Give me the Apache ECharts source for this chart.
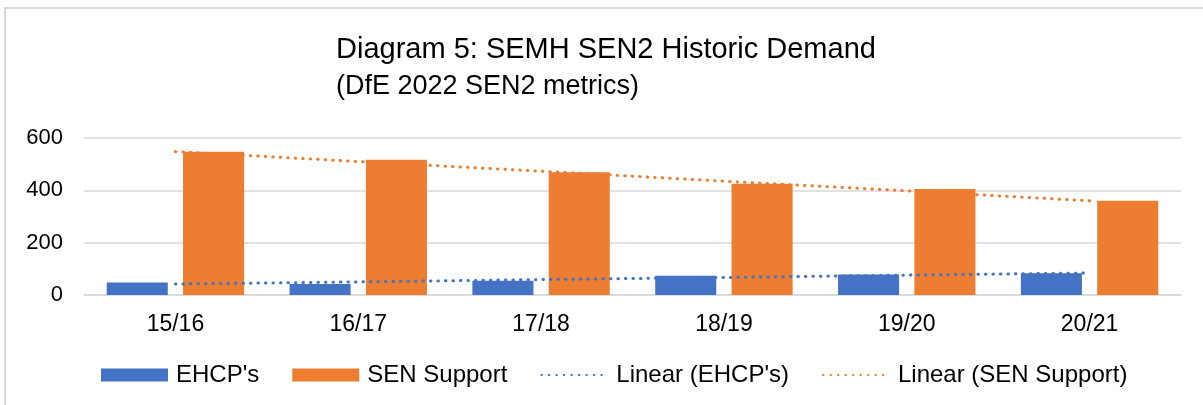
<!DOCTYPE html>
<html>
<head>
<meta charset="utf-8">
<script src="https://cdn.jsdelivr.net/npm/echarts@6/dist/echarts.min.js"></script>
<style>
  html, body { margin: 0; padding: 0; background: #fff; }
  #chart { width: 1203px; height: 405px; }
</style>
</head>
<body>
<div id="chart"></div>
<script>
// chart values
const categories = ['15/16', '16/17', '17/18', '18/19', '19/20', '20/21'];
const ehcp = [48, 42, 54, 74, 78, 83];
const senSupport = [547, 517, 469, 425, 405, 360];
// trend lines as they sit at each category centre
const ehcpTrend = [42, 50, 59, 67, 76, 84];
const senTrend = [548, 510, 473, 435, 398, 360];
const yTicks = { min: 0, max: 600, interval: 200 };

const FONT = '"Liberation Sans", Arial, sans-serif';
const BLUE = '#4472C4';
const ORANGE = '#ED7D31';

const chart = echarts.init(document.getElementById('chart'), null, { renderer: 'canvas' });

const dotted = (color) => ({
    color: color,
    width: 3,
    type: [0.5, 7],
    cap: 'round'
});

// legend entry for a trend line: hide the marker circle echarts draws on top
const noMarker = { opacity: 0, color: 'rgba(0,0,0,0)' };

const option = {
    animation: false,
    backgroundColor: '#fff',
    title: [
        {
            text: 'Diagram 5: SEMH SEN2 Historic Demand',
            left: 336,
            top: 35,
            padding: 0,
            textStyle: { fontFamily: FONT, fontSize: 29, fontWeight: 'normal', color: '#000' }
        },
        {
            text: '(DfE 2022 SEN2 metrics)',
            left: 336,
            top: 73,
            padding: 0,
            textStyle: { fontFamily: FONT, fontSize: 27, fontWeight: 'normal', color: '#000' }
        }
    ],
    graphic: [
        {
            // chart area border (only top/left edges visible in the crop)
            type: 'rect',
            shape: { x: 5, y: 8, width: 1400, height: 600 },
            style: { fill: 'none', stroke: '#d9d9d9', lineWidth: 2 },
            silent: true
        }
    ],
    legend: {
        left: 101,
        top: 363,
        itemWidth: 67,
        itemHeight: 13,
        itemGap: 33,
        padding: 0,
        textStyle: { fontFamily: FONT, fontSize: 24, color: '#000', padding: [0, 0, 0, 3] },
        data: [
            { name: "EHCP's", icon: 'rect' },
            { name: 'SEN Support', icon: 'rect' },
            { name: "Linear (EHCP's)", itemStyle: noMarker },
            { name: 'Linear (SEN Support)', itemStyle: noMarker }
        ]
    },
    grid: {
        left: 84,
        right: 22,
        top: 138,
        bottom: 110,
        containLabel: false
    },
    xAxis: {
        type: 'category',
        data: categories,
        axisLine: { lineStyle: { color: '#d9d9d9', width: 1.5 } },
        axisTick: { show: false },
        axisLabel: { fontFamily: FONT, fontSize: 23, color: '#000', margin: 18 }
    },
    yAxis: {
        type: 'value',
        min: yTicks.min,
        max: yTicks.max,
        interval: yTicks.interval,
        axisLine: { show: false },
        axisTick: { show: false },
        axisLabel: { fontFamily: FONT, fontSize: 22, color: '#000', margin: 21 },
        splitLine: { lineStyle: { color: '#d9d9d9', width: 1.5 } }
    },
    series: [
        {
            name: "EHCP's",
            type: 'bar',
            data: ehcp,
            barWidth: '33.4%',
            barGap: '25%',
            itemStyle: { color: BLUE }
        },
        {
            name: 'SEN Support',
            type: 'bar',
            data: senSupport,
            barWidth: '33.4%',
            barGap: '25%',
            itemStyle: { color: ORANGE }
        },
        {
            name: "Linear (EHCP's)",
            type: 'line',
            data: ehcpTrend,
            symbol: 'none',
            itemStyle: { color: BLUE },
            lineStyle: dotted(BLUE),
            z: 5
        },
        {
            name: 'Linear (SEN Support)',
            type: 'line',
            data: senTrend,
            symbol: 'none',
            itemStyle: { color: ORANGE },
            lineStyle: dotted(ORANGE),
            z: 5
        }
    ]
};

chart.setOption(option);
window.addEventListener('resize', chart.resize);
</script>
</body>
</html>
